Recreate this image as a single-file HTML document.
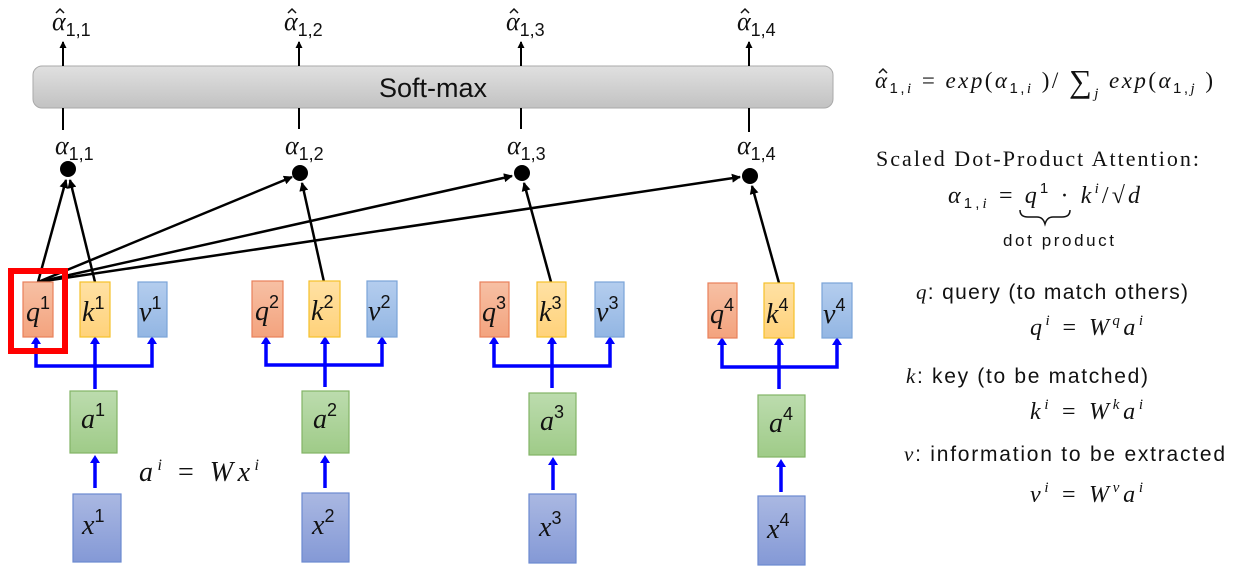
<!DOCTYPE html>
<html><head><meta charset="utf-8"><style>
html,body{margin:0;padding:0;background:#fff;}
svg{display:block}
.m{font-family:"Liberation Serif",serif;font-style:italic;fill:#111}
.s{font-family:"Liberation Sans",sans-serif;fill:#111}
.u{font-family:"Liberation Sans",sans-serif;font-style:normal}
</style></head><body>
<svg width="1233" height="577" viewBox="0 0 1233 577" xmlns="http://www.w3.org/2000/svg">
<defs>
<linearGradient id="gr" x1="0" y1="0" x2="0" y2="1"><stop offset="0" stop-color="#e0e0e0"/><stop offset="1" stop-color="#c2c2c2"/></linearGradient>
<linearGradient id="go" x1="0" y1="0" x2="0" y2="1"><stop offset="0" stop-color="#f7c0a4"/><stop offset="1" stop-color="#f3a37e"/></linearGradient>
<linearGradient id="gy" x1="0" y1="0" x2="0" y2="1"><stop offset="0" stop-color="#ffe1a4"/><stop offset="1" stop-color="#ffd27a"/></linearGradient>
<linearGradient id="gb" x1="0" y1="0" x2="0" y2="1"><stop offset="0" stop-color="#b4cdee"/><stop offset="1" stop-color="#93b6e3"/></linearGradient>
<linearGradient id="gg" x1="0" y1="0" x2="0" y2="1"><stop offset="0" stop-color="#bcdcae"/><stop offset="1" stop-color="#9fcb88"/></linearGradient>
<linearGradient id="gx" x1="0" y1="0" x2="0" y2="1"><stop offset="0" stop-color="#aab8e2"/><stop offset="1" stop-color="#8499d6"/></linearGradient>
<marker id="ak" markerWidth="9" markerHeight="9" refX="8" refY="4.5" orient="auto" markerUnits="userSpaceOnUse"><path d="M0,0 L9,4.5 L0,9 z" fill="#000"/></marker>
<marker id="as" markerWidth="7" markerHeight="7" refX="6" refY="3.5" orient="auto" markerUnits="userSpaceOnUse"><path d="M0,0 L7,3.5 L0,7 z" fill="#000"/></marker>
</defs>

<!-- softmax -->
<rect x="33" y="66" width="800" height="42" rx="9" fill="url(#gr)" stroke="#aaa"/>
<text x="433" y="97" text-anchor="middle" class="s" font-size="27">Soft-max</text>

<g stroke="#000" stroke-width="2">
<line x1="63" y1="66" x2="63" y2="42" marker-end="url(#as)"/><line x1="299" y1="66" x2="299" y2="42" marker-end="url(#as)"/>
<line x1="521" y1="66" x2="521" y2="42" marker-end="url(#as)"/><line x1="749" y1="66" x2="749" y2="42" marker-end="url(#as)"/>
<line x1="63" y1="108" x2="63" y2="130"/><line x1="299" y1="108" x2="299" y2="129"/>
<line x1="521" y1="108" x2="521" y2="129"/><line x1="749" y1="108" x2="749" y2="132"/>
</g>
<g class="m" font-size="26">
<text x="52" y="30">α<tspan class="u" font-size="18" dy="6">1,1</tspan></text>
<text x="284" y="30">α<tspan class="u" font-size="18" dy="6">1,2</tspan></text>
<text x="506" y="30">α<tspan class="u" font-size="18" dy="6">1,3</tspan></text>
<text x="737" y="30">α<tspan class="u" font-size="18" dy="6">1,4</tspan></text>
<text x="55" y="154">α<tspan class="u" font-size="18" dy="6">1,1</tspan></text>
<text x="285" y="154">α<tspan class="u" font-size="18" dy="6">1,2</tspan></text>
<text x="507" y="154">α<tspan class="u" font-size="18" dy="6">1,3</tspan></text>
<text x="737" y="154">α<tspan class="u" font-size="18" dy="6">1,4</tspan></text>
</g>
<g stroke="#111" stroke-width="1.5" fill="none">
<path d="M56,13 l4,-4 l4,4"/><path d="M288,13 l4,-4 l4,4"/><path d="M510,13 l4,-4 l4,4"/><path d="M741,13 l4,-4 l4,4"/>
</g>

<g fill="#000"><circle cx="68" cy="169" r="8"/><circle cx="300" cy="173" r="8"/><circle cx="522" cy="173" r="8"/><circle cx="750" cy="176" r="8"/></g>

<g stroke="#000" stroke-width="2.5" marker-end="url(#ak)">
<line x1="38" y1="282" x2="66" y2="180"/>
<line x1="95" y1="282" x2="70" y2="180"/>
<line x1="38" y1="282" x2="292" y2="177"/>
<line x1="324" y1="282" x2="302" y2="183"/>
<line x1="38" y1="282" x2="512" y2="176"/>
<line x1="551" y1="282" x2="524" y2="183"/>
<line x1="38" y1="282" x2="740" y2="177"/>
<line x1="779" y1="283" x2="752" y2="186"/>
</g>

<g stroke="#0000ff" stroke-width="3.5" fill="none">
<polyline points="36,339 36,366 152,366 152,339"/><line x1="95" y1="339" x2="95" y2="389"/><line x1="95" y1="488" x2="95" y2="458"/>
<polyline points="266,339 266,365 382,365 382,339"/><line x1="325" y1="339" x2="325" y2="387"/><line x1="325" y1="488" x2="325" y2="458"/>
<polyline points="494,339 494,366 610,366 610,339"/><line x1="552" y1="339" x2="552" y2="388"/><line x1="553" y1="490" x2="553" y2="460"/>
<polyline points="722,340 722,367 837,367 837,340"/><line x1="779" y1="340" x2="779" y2="389"/><line x1="781" y1="492" x2="781" y2="462"/>
</g>
<g fill="#0000ff">
<path d="M31,344 L36,336 L41,344z"/><path d="M90,344 L95,336 L100,344z"/><path d="M147,344 L152,336 L157,344z"/><path d="M90,463 L95,455 L100,463z"/>
<path d="M261,344 L266,336 L271,344z"/><path d="M320,344 L325,336 L330,344z"/><path d="M377,344 L382,336 L387,344z"/><path d="M320,463 L325,455 L330,463z"/>
<path d="M489,344 L494,336 L499,344z"/><path d="M547,344 L552,336 L557,344z"/><path d="M605,344 L610,336 L615,344z"/><path d="M548,465 L553,457 L558,465z"/>
<path d="M717,345 L722,337 L727,345z"/><path d="M774,345 L779,337 L784,345z"/><path d="M832,345 L837,337 L842,345z"/><path d="M776,467 L781,459 L786,467z"/>
</g>

<g stroke-width="1.2">
<rect x="23" y="282" width="30" height="55" fill="url(#go)" stroke="#e8805a"/>
<rect x="80" y="282" width="30" height="55" fill="url(#gy)" stroke="#f5c02a"/>
<rect x="138" y="282" width="29" height="55" fill="url(#gb)" stroke="#7aa4d8"/>
<rect x="252" y="281" width="31" height="56" fill="url(#go)" stroke="#e8805a"/>
<rect x="309" y="281" width="31" height="56" fill="url(#gy)" stroke="#f5c02a"/>
<rect x="367" y="281" width="30" height="56" fill="url(#gb)" stroke="#7aa4d8"/>
<rect x="480" y="282" width="29" height="55" fill="url(#go)" stroke="#e8805a"/>
<rect x="537" y="282" width="29" height="55" fill="url(#gy)" stroke="#f5c02a"/>
<rect x="595" y="282" width="29" height="55" fill="url(#gb)" stroke="#7aa4d8"/>
<rect x="708" y="283" width="29" height="55" fill="url(#go)" stroke="#e8805a"/>
<rect x="764" y="283" width="30" height="55" fill="url(#gy)" stroke="#f5c02a"/>
<rect x="822" y="283" width="30" height="55" fill="url(#gb)" stroke="#7aa4d8"/>
<rect x="70" y="391" width="47" height="62" fill="url(#gg)" stroke="#82b366"/>
<rect x="302" y="391" width="47" height="62" fill="url(#gg)" stroke="#82b366"/>
<rect x="529" y="393" width="47" height="62" fill="url(#gg)" stroke="#82b366"/>
<rect x="758" y="395" width="47" height="62" fill="url(#gg)" stroke="#82b366"/>
<rect x="73" y="494" width="48" height="68" fill="url(#gx)" stroke="#6c8ad0"/>
<rect x="302" y="493" width="47" height="69" fill="url(#gx)" stroke="#6c8ad0"/>
<rect x="529" y="494" width="47" height="69" fill="url(#gx)" stroke="#6c8ad0"/>
<rect x="758" y="496" width="47" height="69" fill="url(#gx)" stroke="#6c8ad0"/>
</g>
<rect x="11" y="271" width="54" height="80" fill="none" stroke="#ff0000" stroke-width="6"/>

<g class="m" font-size="28">
<text x="26" y="321">q<tspan class="u" font-size="18" dy="-12">1</tspan></text>
<text x="82" y="321">k<tspan class="u" font-size="18" dy="-12">1</tspan></text>
<text x="139" y="321">v<tspan class="u" font-size="18" dy="-12">1</tspan></text>
<text x="255" y="320">q<tspan class="u" font-size="18" dy="-12">2</tspan></text>
<text x="311" y="320">k<tspan class="u" font-size="18" dy="-12">2</tspan></text>
<text x="368" y="320">v<tspan class="u" font-size="18" dy="-12">2</tspan></text>
<text x="482" y="321">q<tspan class="u" font-size="18" dy="-12">3</tspan></text>
<text x="539" y="321">k<tspan class="u" font-size="18" dy="-12">3</tspan></text>
<text x="596" y="321">v<tspan class="u" font-size="18" dy="-12">3</tspan></text>
<text x="710" y="323">q<tspan class="u" font-size="18" dy="-12">4</tspan></text>
<text x="766" y="323">k<tspan class="u" font-size="18" dy="-12">4</tspan></text>
<text x="823" y="323">v<tspan class="u" font-size="18" dy="-12">4</tspan></text>
<text x="81" y="428">a<tspan class="u" font-size="18" dy="-12">1</tspan></text>
<text x="313" y="428">a<tspan class="u" font-size="18" dy="-12">2</tspan></text>
<text x="540" y="430">a<tspan class="u" font-size="18" dy="-12">3</tspan></text>
<text x="769" y="432">a<tspan class="u" font-size="18" dy="-12">4</tspan></text>
<text x="82" y="534">x<tspan class="u" font-size="18" dy="-12">1</tspan></text>
<text x="312" y="534">x<tspan class="u" font-size="18" dy="-12">2</tspan></text>
<text x="539" y="536">x<tspan class="u" font-size="18" dy="-12">3</tspan></text>
<text x="767" y="538">x<tspan class="u" font-size="18" dy="-12">4</tspan></text>
<text x="139" y="481" textLength="120" lengthAdjust="spacing">a<tspan font-size="16" dy="-11">i</tspan><tspan dy="11" font-style="normal"> = </tspan>Wx<tspan font-size="16" dy="-11">i</tspan></text>
</g>

<!-- right side -->
<text x="875" y="88" class="m" font-size="23" textLength="338" lengthAdjust="spacing">α<tspan class="u" font-size="15" dy="5">1,</tspan><tspan font-size="15">i</tspan><tspan dy="-5" font-style="normal"> = </tspan>exp<tspan font-style="normal">(</tspan>α<tspan class="u" font-size="15" dy="5">1,</tspan><tspan font-size="15">i</tspan><tspan dy="-5" font-style="normal"> )/ </tspan><tspan font-style="normal" font-size="32" dy="4">∑</tspan><tspan font-size="15" dy="6">j</tspan><tspan dy="-10"> exp</tspan><tspan font-style="normal">(</tspan>α<tspan class="u" font-size="15" dy="5">1,</tspan><tspan font-size="15">j</tspan><tspan dy="-5" font-style="normal"> )</tspan></text>
<path d="M879,73 l4,-4 l4,4" fill="none" stroke="#111" stroke-width="1.5"/>
<text x="876" y="166" font-family="Liberation Serif,serif" font-size="22" fill="#111" textLength="323" lengthAdjust="spacing">Scaled Dot-Product Attention:</text>
<text x="948" y="203" class="m" font-size="24" textLength="192" lengthAdjust="spacing">α<tspan class="u" font-size="15" dy="5">1,</tspan><tspan font-size="15">i</tspan><tspan dy="-5" font-style="normal"> = </tspan>q<tspan class="u" font-size="15" dy="-10">1</tspan><tspan dy="10" font-style="normal"> · </tspan>k<tspan font-size="15" dy="-10">i</tspan><tspan dy="10" font-style="normal">/√</tspan>d</text>
<path d="M1020,210 q0,7 8,7 h9 q6,0 8,7 q2,-7 8,-7 h9 q8,0 8,-7" fill="none" stroke="#111" stroke-width="1.5"/>
<text x="1003" y="246" class="s" font-size="17" textLength="111" lengthAdjust="spacing">dot product</text>
<g font-size="21">
<text x="916" y="299" class="s" textLength="272" lengthAdjust="spacing"><tspan class="m">q</tspan>: query (to match others)</text>
<text x="1030" y="335" class="m" font-size="24" textLength="113" lengthAdjust="spacing">q<tspan font-size="15" dy="-10">i</tspan><tspan dy="10" font-style="normal"> = </tspan>W<tspan font-size="15" dy="-10">q</tspan><tspan dy="10">a</tspan><tspan font-size="15" dy="-10">i</tspan></text>
<text x="906" y="383" class="s" textLength="242" lengthAdjust="spacing"><tspan class="m">k</tspan>: key (to be matched)</text>
<text x="1030" y="419" class="m" font-size="24" textLength="113" lengthAdjust="spacing">k<tspan font-size="15" dy="-10">i</tspan><tspan dy="10" font-style="normal"> = </tspan>W<tspan font-size="15" dy="-10">k</tspan><tspan dy="10">a</tspan><tspan font-size="15" dy="-10">i</tspan></text>
<text x="904" y="461" class="s" textLength="321" lengthAdjust="spacing"><tspan class="m">v</tspan>: information to be extracted</text>
<text x="1030" y="502" class="m" font-size="24" textLength="113" lengthAdjust="spacing">v<tspan font-size="15" dy="-10">i</tspan><tspan dy="10" font-style="normal"> = </tspan>W<tspan font-size="15" dy="-10">v</tspan><tspan dy="10">a</tspan><tspan font-size="15" dy="-10">i</tspan></text>
</g>
</svg>
</body></html>
